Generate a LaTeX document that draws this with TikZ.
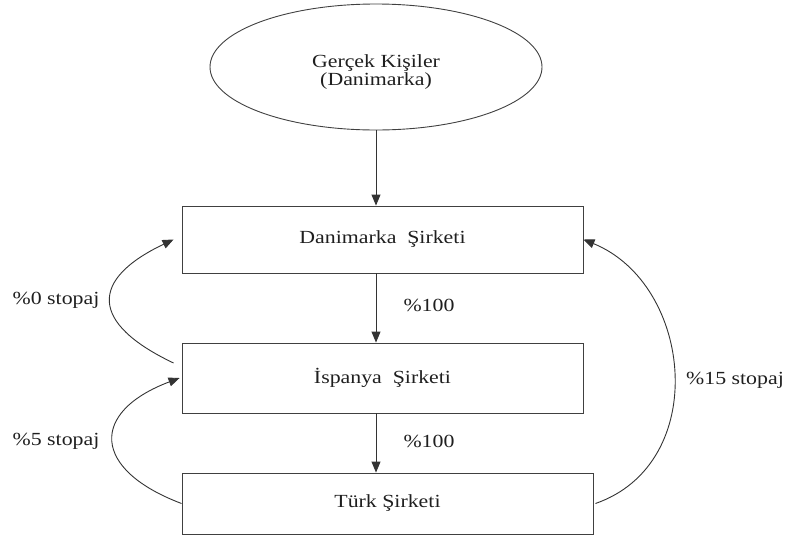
\documentclass[tikz,border=0pt]{standalone}
\usepackage{fontspec}
\setmainfont{Liberation Serif}[FakeStretch=1.18]
\usetikzlibrary{arrows.meta,shapes.geometric}
\begin{document}
\begin{tikzpicture}[x=1pt,y=-1pt,
  every node/.style={font=\fontsize{18.5}{16}\selectfont, text=black!88},
  entity/.style={draw=black!75, line width=0.9pt, inner sep=0pt},
  company/.style={entity, rectangle, minimum height=#1},
  flow/.style={draw=black!80, line width=0.9pt, -{Triangle[length=11pt,width=9pt]}}]
\useasboundingbox (0,0) rectangle (786,536);

% owners and companies
\node[entity, ellipse, minimum width=332pt, minimum height=126pt] (owners) at (376,67) {};
\node[align=center, inner sep=0pt] (ownerstext) at (376,72) {Gerçek Kişiler\\(Danimarka)};
\node[company=67pt, minimum width=401pt] (dk) at (382.5,239.5) {Danimarka\ \ Şirketi};
\node[company=70pt, minimum width=401pt] (es) at (382.5,378) {İspanya\ \ Şirketi};
\node[company=61pt, minimum width=411pt] (tr) at (387.5,503.5) {Türk Şirketi};

% ownership chain
\draw[flow] (owners.south) -- (owners.south |- dk.north);
\draw[flow] (owners.south |- dk.south) -- (owners.south |- es.north);
\draw[flow] (owners.south |- es.south) -- (owners.south |- tr.north);

% dividend flows with withholding
\draw[flow] ([xshift=-8pt,yshift=15pt]es.west) .. controls +(-84,-40) and +(-84,40) .. ([xshift=-8pt]dk.west);
\draw[flow] (tr.west) .. controls +(-90,-34) and +(-90,34) .. ([xshift=-2pt]es.west);
\draw[flow] ([xshift=2pt]tr.east) .. controls +(115,-40) and +(110,45) .. (dk.east);

% labels
\node (l0) at (56,300) {\%0 stopaj};
\node (l5) at (56,441) {\%5 stopaj};
\node (l15) at (735,380) {\%15 stopaj};
\node (p1) at (429,305) {\%100};
\node (p2) at (429,441) {\%100};
\end{tikzpicture}
\end{document}
